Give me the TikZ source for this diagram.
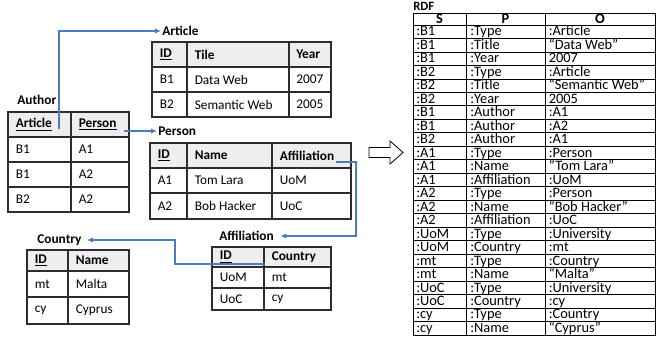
\documentclass[tikz,border=0pt]{standalone}
\usepackage{fontspec}
\setmainfont{Carlito}
\usetikzlibrary{arrows.meta}
\definecolor{linkblue}{RGB}{74,126,187}
\definecolor{hdrgray}{RGB}{240,237,241}
\definecolor{tblline}{RGB}{45,45,45}
\begin{document}
\begin{tikzpicture}[x=0.75pt,y=-0.75pt,
  tbl/.style={draw=tblline,line width=0.9pt},
  cell/.style={anchor=west,inner sep=0pt,font=\fontsize{10}{12}\selectfont},
  hcell/.style={cell,font=\fontsize{10}{12}\selectfont\bfseries},
  lbl/.style={anchor=west,inner sep=0.8pt,font=\fontsize{10}{12}\selectfont\bfseries},
  link/.style={draw=linkblue,line width=0.8pt,-{Latex[length=4.5pt,width=4pt]}},
  rdfline/.style={draw=black,line width=0.6pt},
  rcell/.style={anchor=base west,inner sep=0pt,font=\fontsize{10.8}{12}\selectfont},
  rhead/.style={anchor=base,inner sep=0pt,font=\fontsize{10.8}{12}\selectfont\bfseries},
]
\useasboundingbox (0,0) rectangle (656,336);

% ---------- Author ----------
\node[lbl] (auLbl) at (16,100) {Author};
\fill[hdrgray] (8,112) rectangle (129,137);
\draw[tbl] (8,112) rectangle (129,212) (71,112) -- (71,212)
  (8,137) -- (129,137) (8,162) -- (129,162) (8,187) -- (129,187);
\node[hcell] (auH1) at (15.5,124.5) {\underline{Article}};
\node[hcell] (auH2) at (78.5,124.5) {\underline{Person}};
\node[cell] (au11) at (15.5,149.5) {B1};
\node[cell] (au12) at (78.5,149.5) {A1};
\node[cell] (au21) at (15.5,174.5) {B1};
\node[cell] (au22) at (78.5,174.5) {A2};
\node[cell] (au31) at (15.5,199.5) {B2};
\node[cell] (au32) at (78.5,199.5) {A2};

% ---------- Article ----------
\node[lbl] (arLbl) at (161,31) {Article};
\fill[hdrgray] (152,42) rectangle (331,67);
\draw[tbl] (152,42) rectangle (331,117) (187,42) -- (187,117) (289,42) -- (289,117)
  (152,67) -- (331,67) (152,92) -- (331,92);
\node[hcell] (arH1) at (159.5,54.5) {\underline{ID}};
\node[hcell] (arH2) at (194.5,54.5) {Tile};
\node[hcell] (arH3) at (296,54.5) {Year};
\node[cell] (ar11) at (159.5,79.5) {B1};
\node[cell] (ar12) at (194.5,79.5) {Data Web};
\node[cell] (ar13) at (296,79.5) {2007};
\node[cell] (ar21) at (159.5,104.5) {B2};
\node[cell] (ar22) at (194.5,104.5) {Semantic Web};
\node[cell] (ar23) at (296,104.5) {2005};

% ---------- Person ----------
\node[lbl] (peLbl) at (157,131) {Person};
\fill[hdrgray] (150,143) rectangle (351,168);
\draw[tbl] (150,143) rectangle (351,219) (187,143) -- (187,219) (272,143) -- (272,219)
  (150,168) -- (351,168) (150,193) -- (351,193);
\node[hcell] (peH1) at (157.5,155.5) {\underline{ID}};
\node[hcell] (peH2) at (194.5,155.5) {Name};
\node[hcell] (peH3) at (279.5,155.5) {Affiliation};
\node[cell] (pe11) at (157.5,180.5) {A1};
\node[cell] (pe12) at (194.5,180.5) {Tom Lara};
\node[cell] (pe13) at (279.5,180.5) {UoM};
\node[cell] (pe21) at (157.5,206) {A2};
\node[cell] (pe22) at (194.5,206) {Bob Hacker};
\node[cell] (pe23) at (279.5,206) {UoC};

% ---------- Affiliation ----------
\node[lbl] (afLbl) at (218,236) {Affiliation};
\fill[hdrgray] (212,247) rectangle (331,267);
\draw[tbl] (212,247) rectangle (331,310) (264,247) -- (264,310)
  (212,267) -- (331,267) (212,288) -- (331,288);
\node[hcell] (afH1) at (219.5,257) {\underline{ID}};
\node[hcell] (afH2) at (271.5,257) {Country};
\node[cell] (af11) at (219.5,277.5) {UoM};
\node[cell] (af12) at (271.5,277.5) {mt};
\node[cell] (af21) at (219.5,299) {UoC};
\node[cell] (af22) at (271.5,299) {cy};

% ---------- Country ----------
\node[lbl] (coLbl) at (36,240) {Country};
\fill[hdrgray] (27,250) rectangle (129,271);
\draw[tbl] (27,250) rectangle (129,324) (68,250) -- (68,324)
  (27,271) -- (129,271) (27,297) -- (129,297);
\node[hcell] (coH1) at (34.5,260.5) {\underline{ID}};
\node[hcell] (coH2) at (75.5,260.5) {Name};
\node[cell] (co11) at (34.5,284) {mt};
\node[cell] (co12) at (75.5,284) {Malta};
\node[cell] (co21) at (34.5,310.5) {cy};
\node[cell] (co22) at (75.5,310.5) {Cyprus};

% ---------- links ----------
\coordinate (s1) at (59,129);
\coordinate (s2) at (124,131);
\coordinate (s3) at (336,162);
\coordinate (b3) at (356,162);
\coordinate (s4) at (265,264);
\coordinate (b4) at (175,264);
\draw[link] (s1) |- (arLbl.west);
\draw[link] (s2) -- (peLbl.west);
\draw[link,shorten >=4pt] (s3) -- (b3) |- (afLbl.east);
\draw[link,shorten >=3pt] (s4) -- (b4) |- (coLbl.east);

% ---------- block arrow ----------
\draw[line width=0.6pt,fill=white] (369,147.5) -- (390,147.5) -- (390,141) -- (403,152.5)
  -- (390,164) -- (390,157.5) -- (369,157.5) -- cycle;

% ---------- RDF ----------
\node[anchor=west,inner sep=0pt,font=\fontsize{9.5}{11}\selectfont\bfseries] (rdfLbl) at (413,6) {RDF};
\draw[rdfline] (413,13) rectangle (655,335);
\draw[rdfline] (466,13) -- (466,335) (545,13) -- (545,335) (413,25) -- (655,25);
\node[rhead] (hS) at (439.5,23) {S};
\node[rhead] (hP) at (505.5,23) {P};
\node[rhead] (hO) at (600,23) {O};
\foreach \s/\p/\o [count=\i] in {
  :B1/:Type/:Article, :B1/:Title/“Data Web”, :B1/:Year/2007,
  :B2/:Type/:Article, :B2/:Title/“Semantic Web”, :B2/:Year/2005,
  :B1/:Author/:A1, :B1/:Author/:A2, :B2/:Author/:A1,
  :A1/:Type/:Person, :A1/:Name/“Tom Lara”, :A1/:Affiliation/:UoM,
  :A2/:Type/:Person, :A2/:Name/“Bob Hacker”, :A2/:Affiliation/:UoC,
  :UoM/:Type/:University, :UoM/:Country/:mt, :mt/:Type/:Country,
  :mt/:Name/“Malta”, :UoC/:Type/:University, :UoC/:Country/:cy,
  :cy/:Type/:Country, :cy/:Name/“Cyprus”} {
  \pgfmathsetmacro\yb{25+13.48*\i}
  \draw[rdfline] (413,\yb) -- (655,\yb);
  \node[rcell] (rs\i) at (416,\yb-2.6) {\s};
  \node[rcell] (rp\i) at (470,\yb-2.6) {\p};
  \node[rcell] (ro\i) at (548.5,\yb-2.6) {\o};
}
\end{tikzpicture}
\end{document}
